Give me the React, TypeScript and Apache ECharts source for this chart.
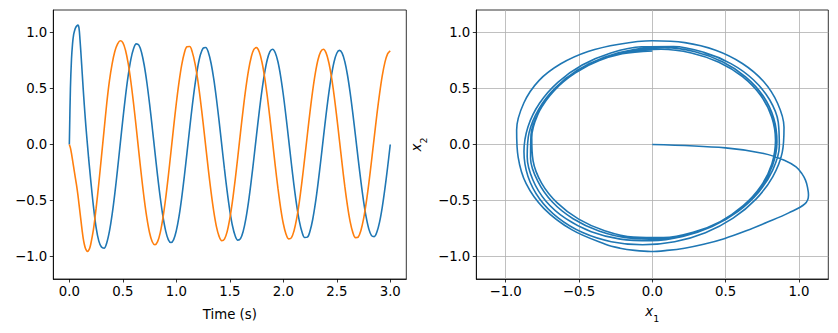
import React, { useEffect, useRef } from "react";
import * as echarts from "echarts";

// Time samples (s)
const TIME: number[] = [
  0, 0.01, 0.02, 0.03, 0.04, 0.05, 0.06, 0.07, 0.08, 0.09, 0.1, 0.11, 0.12, 0.13, 0.14, 0.15, 0.16, 0.17, 0.18, 0.19, 0.2,
  0.225, 0.25, 0.275, 0.3, 0.325, 0.35, 0.375, 0.4, 0.425, 0.45, 0.475, 0.5, 0.525, 0.55, 0.575, 0.6, 0.625, 0.65, 0.675, 0.7,
  0.725, 0.75, 0.775, 0.8, 0.825, 0.85, 0.875, 0.9, 0.925, 0.95, 0.975, 1.0, 1.025, 1.05, 1.075, 1.1, 1.125, 1.15, 1.175, 1.2,
  1.225, 1.25, 1.275, 1.3, 1.325, 1.35, 1.375, 1.4, 1.425, 1.45, 1.475, 1.5, 1.525, 1.55, 1.575, 1.6, 1.625, 1.65, 1.675, 1.7,
  1.725, 1.75, 1.775, 1.8, 1.825, 1.85, 1.875, 1.9, 1.925, 1.95, 1.975, 2.0, 2.025, 2.05, 2.075, 2.1, 2.125, 2.15, 2.175, 2.2,
  2.225, 2.25, 2.275, 2.3, 2.325, 2.35, 2.375, 2.4, 2.425, 2.45, 2.475, 2.5, 2.525, 2.55, 2.575, 2.6, 2.625, 2.65, 2.675, 2.7,
  2.725, 2.75, 2.775, 2.8, 2.825, 2.85, 2.875, 2.9, 2.925, 2.95, 2.975, 3.0,
];

// State x1 (blue)
const X1: number[] = [
  0.0, 0.5, 0.76, 0.9, 0.98, 1.02, 1.045, 1.058, 1.065, 1.04, 0.93, 0.79, 0.64, 0.49, 0.35, 0.22, 0.1, -0.01, -0.12, -0.22, -0.32,
  -0.55, -0.74, -0.86, -0.915, -0.925, -0.876, -0.773, -0.624, -0.438, -0.226, -0.001, 0.222, 0.432, 0.614, 0.759, 0.854, 0.898, 0.886, 0.821, 0.707,
  0.551, 0.362, 0.152, -0.066, -0.28, -0.475, -0.642, -0.769, -0.848, -0.875, -0.848, -0.769, -0.644, -0.478, -0.283, -0.072, 0.144, 0.351, 0.536, 0.689,
  0.8, 0.859, 0.866, 0.821, 0.725, 0.585, 0.408, 0.208, -0.005, -0.218, -0.416, -0.589, -0.725, -0.814, -0.853, -0.84, -0.775, -0.663, -0.511, -0.327,
  -0.125, 0.086, 0.291, 0.478, 0.636, 0.756, 0.828, 0.85, 0.819, 0.738, 0.611, 0.446, 0.253, 0.046, -0.165, -0.364, -0.54, -0.683, -0.781, -0.83,
  -0.827, -0.772, -0.669, -0.524, -0.346, -0.147, 0.061, 0.266, 0.454, 0.615, 0.738, 0.814, 0.84, 0.815, 0.74, 0.62, 0.463, 0.278, 0.077, -0.128,
  -0.325, -0.502, -0.648, -0.755, -0.813, -0.822, -0.781, -0.692, -0.56, -0.394, -0.205, 0.0,
];

// State x2 (orange)
const X2: number[] = [
  0.0, -0.03, -0.08, -0.14, -0.2, -0.26, -0.32, -0.38, -0.45, -0.53, -0.61, -0.69, -0.77, -0.84, -0.89, -0.925, -0.945, -0.955, -0.945, -0.925, -0.89,
  -0.76, -0.57, -0.35, -0.11, 0.13, 0.37, 0.57, 0.72, 0.83, 0.895, 0.925, 0.909, 0.841, 0.723, 0.562, 0.368, 0.154, -0.07, -0.288, -0.487,
  -0.657, -0.787, -0.868, -0.895, -0.867, -0.786, -0.655, -0.484, -0.283, -0.065, 0.157, 0.368, 0.555, 0.709, 0.817, 0.872, 0.874, 0.822, 0.722, 0.578,
  0.399, 0.198, -0.016, -0.228, -0.425, -0.596, -0.732, -0.82, -0.858, -0.844, -0.778, -0.662, -0.506, -0.317, -0.109, 0.106, 0.314, 0.503, 0.662, 0.779,
  0.848, 0.864, 0.827, 0.738, 0.604, 0.433, 0.235, 0.023, -0.19, -0.39, -0.565, -0.705, -0.798, -0.842, -0.833, -0.771, -0.662, -0.511, -0.327, -0.124,
  0.087, 0.293, 0.481, 0.639, 0.758, 0.829, 0.85, 0.817, 0.734, 0.605, 0.439, 0.245, 0.037, -0.173, -0.372, -0.546, -0.688, -0.784, -0.831, -0.826,
  -0.769, -0.666, -0.521, -0.344, -0.145, 0.062, 0.266, 0.452, 0.612, 0.733, 0.809, 0.835,
];

const TIME_TICKS = [0, 0.5, 1.0, 1.5, 2.0, 2.5, 3.0];
const STATE_TICKS = [-1.0, -0.5, 0, 0.5, 1.0];

const BLUE = "#1f77b4";
const ORANGE = "#ff7f0e";
const FONT = "DejaVu Sans";
const FS = 13.3;

const fmt = (v: number) => {
  const s = Math.abs(v) < 1e-9 ? "0.0" : v.toFixed(1);
  return s.replace("-", "\u2212");
};

function makeAxis(gridIndex: number, min: number, max: number, ticks: number[], grid: boolean, extra: any = {}) {
  return {
    type: "value",
    gridIndex,
    min,
    max,
    axisLine: { show: true, onZero: false, lineStyle: { color: "#000", width: 0.8 } },
    axisTick: { show: true, length: 3.5, inside: false, customValues: ticks, lineStyle: { color: "#000", width: 0.8 } },
    axisLabel: { customValues: ticks, margin: 6, color: "#000", fontFamily: FONT, fontSize: FS, formatter: fmt },
    splitLine: { show: grid, lineStyle: { color: "#b0b0b0", width: 0.8 } },
    ...extra,
  };
}

const subRich = {
  x: { fontFamily: FONT, fontStyle: "italic", fontSize: FS, color: "#000", verticalAlign: "top" },
  s: { fontFamily: FONT, fontSize: 9.5, color: "#000", verticalAlign: "bottom", padding: [8, 0, 0, 0] },
};

export default function App() {
  const ref = useRef<HTMLDivElement>(null);
  useEffect(() => {
    if (!ref.current) return;
    const chart = echarts.init(ref.current, null, { renderer: "svg" });
    const gridStyle = { show: true, borderColor: "#000", borderWidth: 0.8, backgroundColor: "transparent" };
    const lineSeries = (xi: number, data: number[][], color: string) => ({
      type: "line",
      xAxisIndex: xi,
      yAxisIndex: xi,
      data,
      symbol: "none",
      smooth: 0.35,
      lineStyle: { color, width: 1.6 },
      itemStyle: { color },
    });
    const option: any = {
      animation: false,
      textStyle: { fontFamily: FONT },
      grid: [
        { left: 53.3, top: 10, width: 353, height: 269, ...gridStyle },
        { left: 476.3, top: 10, width: 352, height: 269, ...gridStyle },
      ],
      xAxis: [
        makeAxis(0, -0.15, 3.15, TIME_TICKS, false, {
          name: "Time (s)",
          nameLocation: "middle",
          nameGap: 29,
          nameTextStyle: { color: "#000", fontFamily: FONT, fontSize: FS },
        }),
        makeAxis(1, -1.2, 1.2, STATE_TICKS, true, {
          name: "{x|x}{s|1}",
          nameLocation: "middle",
          nameGap: 26,
          nameTextStyle: { color: "#000", rich: subRich },
        }),
      ],
      yAxis: [
        makeAxis(0, -1.2, 1.2, STATE_TICKS, false),
        makeAxis(1, -1.2, 1.2, STATE_TICKS, true, {
          name: "{x|x}{s|2}",
          nameLocation: "middle",
          nameGap: 48,
          nameRotate: 90,
          nameTextStyle: { color: "#000", rich: subRich },
        }),
      ],
      series: [
        lineSeries(0, TIME.map((t, i) => [t, X1[i]]), BLUE),
        lineSeries(0, TIME.map((t, i) => [t, X2[i]]), ORANGE),
        lineSeries(1, X1.map((x, i) => [x, X2[i]]), BLUE),
      ],
    };
    chart.setOption(option);
    return () => chart.dispose();
  }, []);
  return (
    <div
      ref={ref}
      style={{ position: "absolute", left: 0, top: 0, width: 838, height: 333, background: "#fff" }}
    />
  );
}
